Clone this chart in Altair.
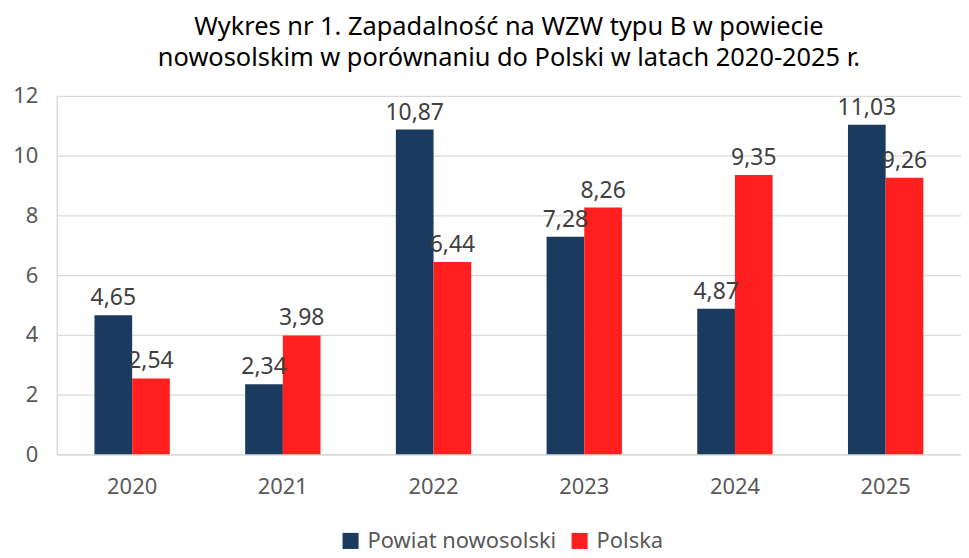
import altair as alt
import pandas as pd

years = ["2020", "2021", "2022", "2023", "2024", "2025"]
powiat = [4.65, 2.34, 10.87, 7.28, 4.87, 11.03]
polska = [2.54, 3.98, 6.44, 8.26, 9.35, 9.26]
series = ["Powiat nowosolski", "Polska"]
colors = ["#1b3a5f", "#ff1f1f"]
y_ticks = list(range(0, 13))

rows = []
for i, y in enumerate(years):
    for s, v in zip(series, [powiat[i], polska[i]]):
        rows.append({"rok": y, "seria": s, "wartosc": v,
                     "etykieta": f"{v:.2f}".replace(".", ",")})
df = pd.DataFrame(rows)

FONT = "Noto Sans"

base = alt.Chart(df).encode(
    x=alt.X("rok:N", sort=years, title=None,
            scale=alt.Scale(paddingInner=0.5, paddingOuter=0.25),
            axis=alt.Axis(labelAngle=0, labelFontSize=22, labelColor="#595959",
                          labelFont=FONT, ticks=False, labelPadding=22,
                          domainColor="#d9d9d9", domainWidth=1.5, grid=False)),
    xOffset=alt.XOffset("seria:N", sort=series),
)

bars = base.mark_bar().encode(
    y=alt.Y("wartosc:Q", title=None,
            scale=alt.Scale(domain=[0, 12], nice=False),
            axis=alt.Axis(values=y_ticks,
                          labelExpr="datum.value % 2 == 0 ? datum.label : ''",
                          labelFontSize=22, labelColor="#595959", labelFont=FONT,
                          ticks=False, labelPadding=19,
                          domainColor="#d9d9d9", domainWidth=1.5,
                          gridColor=alt.condition("datum.value % 2 == 0",
                                                  alt.value("#d9d9d9"),
                                                  alt.value("#efefef")),
                          gridWidth=1.3)),
    color=alt.Color("seria:N", sort=series,
                    scale=alt.Scale(domain=series, range=colors),
                    legend=alt.Legend(title=None, orient="none", direction="horizontal",
                                      legendX=284, legendY=436,
                                      labelFontSize=22, labelColor="#595959",
                                      labelFont=FONT, symbolType="square",
                                      symbolSize=260, symbolStrokeWidth=0,
                                      columnPadding=12, labelOffset=6,
                                      labelLimit=400)),
)

labels = base.mark_text(baseline="bottom", dy=-5, fontSize=23, color="#404040",
                        font=FONT).encode(
    y="wartosc:Q",
    text="etykieta:N",
)

chart = alt.layer(bars, labels).properties(
    width=908, height=360,
    title=alt.TitleParams(
        ["Wykres nr 1. Zapadalność na WZW typu B w powiecie",
         "nowosolskim w porównaniu do Polski w latach 2020-2025 r."],
        fontSize=25.5, font=FONT, fontWeight="normal", color="#000000",
        lineHeight=32, offset=13, anchor="middle"),
    autosize=alt.AutoSizeParams(type="none"),
    padding={"left": 49, "top": 87, "right": 0, "bottom": 103},
).configure_view(stroke=None)

chart.save("out.html", embed_options={"renderer": "svg", "actions": False})
